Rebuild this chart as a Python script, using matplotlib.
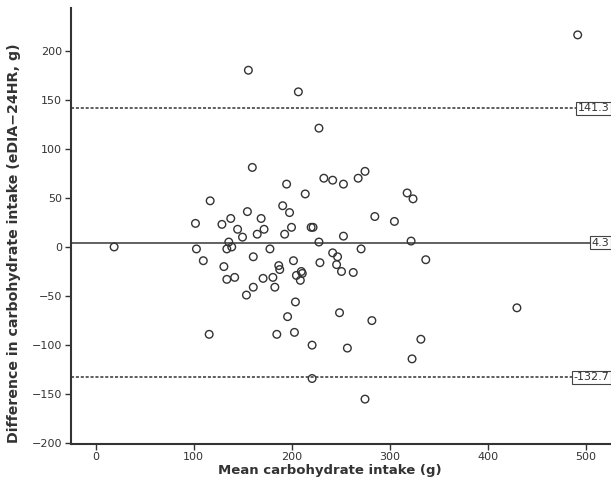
import matplotlib.pyplot as plt

# Bland-Altman: mean of the two methods vs their difference
mean_intake = [19, 102, 103, 110, 116, 117, 129, 131, 134, 134,
               136, 138, 139, 142, 145, 150, 154, 155, 156, 160,
               161, 161, 165, 169, 171, 172, 178, 181, 183, 185,
               187, 188, 191, 193, 195, 196, 198, 200, 202, 203,
               204, 205, 207, 209, 210, 211, 214, 220, 222, 221,
               221, 228, 228, 229, 233, 242, 242, 246, 247, 249,
               251, 253, 253, 257, 263, 268, 271, 275, 275, 282,
               285, 305, 318, 322, 323, 324, 332, 337, 430, 492]
diff_intake = [0, 24, -2, -14, -89, 47, 23, -20, -2, -33,
               5, 29, 0, -31, 18, 10, -49, 36, 180, 81,
               -10, -41, 13, 29, -32, 18, -2, -31, -41, -89,
               -19, -23, 42, 13, 64, -71, 35, 20, -14, -87,
               -56, -29, 158, -34, -25, -27, 54, 20, 20, -100,
               -134, 5, 121, -16, 70, 68, -6, -18, -10, -67,
               -25, 64, 11, -103, -26, 70, -2, 77, -155, -75,
               31, 26, 55, 6, -114, 49, -94, -13, -62, 216]

mean_diff = 4.3
upper_loa = 141.3
lower_loa = -132.7

x_ticks = [0, 100, 200, 300, 400, 500]
y_ticks = [-200, -150, -100, -50, 0, 50, 100, 150, 200]

dark = '#333333'

fig = plt.figure(figsize=(6.11, 4.93), dpi=100)
ax = fig.add_axes([0.1154, 0.0998, 0.8846, 0.8832])

ax.scatter(mean_intake, diff_intake, s=30, facecolors='none',
           edgecolors=dark, linewidths=1.0, zorder=3)

ax.axhline(mean_diff, color='#555555', lw=1.3, zorder=2)
ax.axhline(upper_loa, color=dark, lw=1.1, ls=(0, (2, 1.2)), zorder=2)
ax.axhline(lower_loa, color=dark, lw=1.1, ls=(0, (2, 1.2)), zorder=2)

# value boxes sit at the right end of each line
for val in [upper_loa, mean_diff, lower_loa]:
    ax.text(0.997, val, '{:.1f}'.format(val), transform=ax.get_yaxis_transform(),
            ha='right', va='center', fontsize=8, color=dark, zorder=4,
            bbox=dict(boxstyle='square,pad=0.15', fc='white', ec='#444444', lw=0.8))

ax.set_xlim(-25.5, 526)
ax.set_ylim(-200.5, 243)
ax.set_xticks(x_ticks)
ax.set_yticks(y_ticks)

for side in ['top', 'right']:
    ax.spines[side].set_visible(False)
for side in ['left', 'bottom']:
    ax.spines[side].set_color(dark)
    ax.spines[side].set_linewidth(1.5)

ax.tick_params(direction='out', length=4, width=1, color=dark,
               labelsize=8, labelcolor=dark, pad=2)

ax.set_xlabel('Mean carbohydrate intake (g)', fontsize=9.5,
              fontweight='bold', color=dark)
ax.set_ylabel('Difference in carbohydrate intake (eDIA\u221224HR, g)',
              fontsize=10.2, fontweight='bold', color=dark)
ax.xaxis.set_label_coords(0.48, -0.047)
ax.yaxis.set_label_coords(-0.0916, 0.461)

fig.savefig('out.png', dpi=100)
